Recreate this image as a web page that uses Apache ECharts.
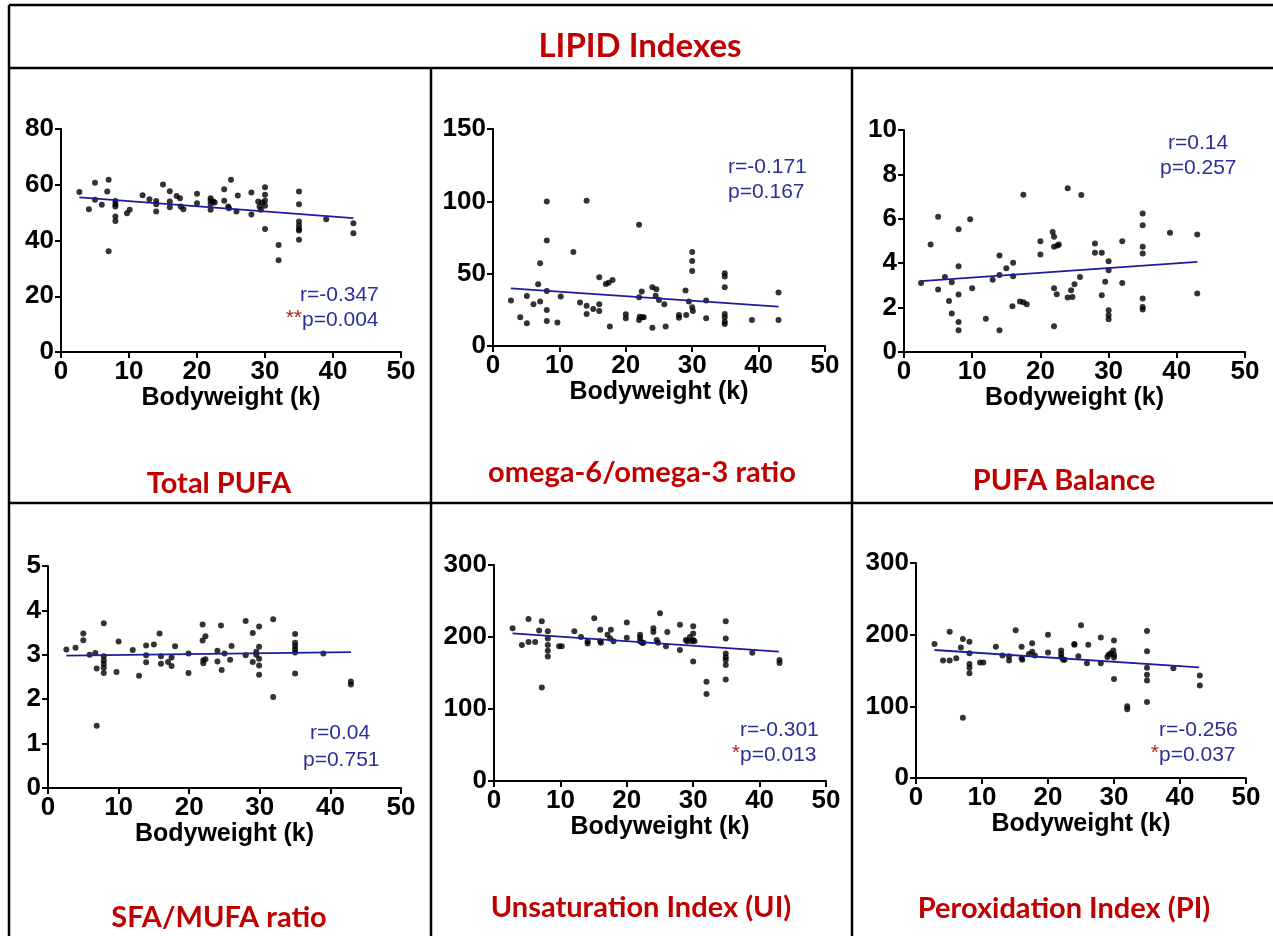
<!DOCTYPE html>
<html>
<head>
<meta charset="utf-8">
<title>LIPID Indexes</title>
<script src="https://cdn.jsdelivr.net/npm/echarts@6/dist/echarts.min.js"></script>
<style>
  html, body { margin: 0; padding: 0; background: #fff; }
  #chart { width: 1273px; height: 936px; }
</style>
</head>
<body>
<div id="chart"></div>
<script>
// ---- data: [bodyweight, value] ----
var totalPufa = [
  [2.7,57.4],[4.1,51.2],[5,60.7],[5,54.6],[6,52.8],[6.8,57.6],[7,61.8],[7,36.1],
  [8,54.2],[8,53],[8,52.2],[8,48.6],[8,47],[9.7,49.8],[10.1,51],[12,56.2],[13,54.8],
  [14,54.2],[14,53],[14,50.4],[15,60.1],[16,57.7],[16,54],[16,51.9],[17,56],[17.5,55.2],
  [17.6,52.2],[18,51.2],[20,56.8],[20,53.4],[22,55.2],[22,54.3],[22,53],[22,51],[22.4,54],
  [22.6,53.6],[24,58.4],[24,54.3],[24.6,52.2],[24.7,51.6],[25,61.8],[26,56.1],[25.8,50.4],
  [28,57.2],[28,49.3],[29,54],[29.2,52.2],[29.4,51],[29.6,53.6],[30,59.1],[30,56.4],
  [30,54.3],[30,52.5],[30,44.1],[32,38.4],[32,32.9],[35,57.6],[35,53],[35,46.8],[35,45.4],
  [35,44.1],[35,43.6],[35,40.3],[39,47.6],[43,46.2],[43,42.6]
];
var omegaRatio = [
  [2.7,31.4],[4.1,19.8],[5.1,34.6],[5.1,15.7],[6.1,28.8],[6.8,42.7],[7.1,57.2],[7.1,30.7],
  [8.1,99.9],[8.1,72.9],[8.1,38.1],[8.1,24.9],[8.1,17.3],[9.7,16.2],[10.2,34.2],[12.1,64.9],
  [13.1,30],[14.1,100.4],[14.1,27.9],[14.1,22.2],[15.1,25.6],[16,47.5],[16,28.8],[16,24.2],
  [17,42.9],[17.4,43.8],[17.6,13.4],[18,45.7],[20,21.9],[20,19.2],[22,83.8],[22,33.7],
  [22,18],[22.1,20.3],[22.4,37.6],[22.5,19.8],[22.7,19.8],[24,40.6],[24,12.7],[24.5,34.8],
  [24.6,39.2],[25,31.8],[25.8,28.8],[26,13.4],[28,21.5],[28,19.6],[29,38.3],[29.1,21.5],
  [29.5,30.7],[30,64.9],[30,58.8],[30,51.9],[30,26.8],[30.1,24.2],[32.1,31.4],[32.1,19.2],
  [34.9,50.3],[34.9,48],[34.9,40.6],[34.9,22.2],[34.9,19.8],[34.9,16.8],[34.9,15.2],
  [39,18],[43,36.9],[43,18]
];
var pufaBalance = [
  [2.5,3.11],[3.9,4.84],[5,6.09],[5,2.81],[6,3.38],[6.6,2.3],[7,3.14],[7,1.73],
  [8,5.53],[8,3.86],[8,2.59],[8,1.35],[8,0.98],[9.7,5.98],[10,2.87],[12,1.5],[13,3.26],
  [14,4.35],[14,3.47],[14,0.98],[15,3.77],[16,4.02],[16,3.41],[15.9,2.06],[17,2.28],
  [17.5,2.24],[18,2.15],[17.5,7.08],[20,4.99],[20,4.39],[21.8,5.41],[22,5.19],[22,4.74],
  [22.5,4.8],[22.7,4.84],[22,2.87],[22.4,2.6],[22,1.16],[24,7.38],[24,2.45],[24.5,2.78],
  [24.7,2.48],[25,3.05],[26,7.07],[25.8,3.38],[28,4.89],[28,4.47],[29,4.47],[29,2.56],
  [29.5,3.17],[30,4.09],[30,3.68],[30,1.88],[30,1.65],[30,1.47],[32,4.99],[32,3.11],
  [35,6.24],[35,5.71],[35,4.74],[35,4.44],[35,2.41],[35,2.03],[35,1.92],[39,5.37],
  [43,5.29],[43,2.63]
];
var sfaMufa = [
  [2.6,3.12],[3.9,3.16],[5,3.48],[5,3.33],[5.9,3.0],[6.7,3.04],[6.9,2.69],[6.9,1.4],
  [7.9,3.71],[7.9,2.97],[7.9,2.87],[7.9,2.79],[7.9,2.71],[7.9,2.59],[9.7,2.61],[10,3.3],
  [12,3.11],[12.9,2.53],[13.9,3.21],[13.9,2.99],[13.9,2.83],[15,3.23],[15.8,3.48],[16,2.97],
  [16,2.8],[17,2.84],[17.5,2.94],[17.5,2.75],[18,3.19],[19.9,3.03],[19.9,2.59],[21.9,3.68],
  [21.9,3.32],[22,2.88],[22,2.81],[22.3,3.42],[22.3,2.9],[24,3.09],[24,2.85],[24.5,3.66],
  [24.6,2.66],[25,3.03],[25.8,2.89],[26,3.2],[28,3.76],[28,2.99],[29,3.49],[29,2.84],
  [29.5,3.07],[29.5,3.0],[29.9,3.64],[29.9,3.18],[29.9,2.91],[29.9,2.76],[29.9,2.55],
  [31.9,3.8],[31.9,2.05],[35,3.47],[35,3.27],[35,3.2],[35,3.12],[35,3.05],[35,2.58],
  [39,3.03],[42.9,2.4],[42.9,2.33]
];
var unsatIndex = [
  [2.8,212],[4.2,189],[5.2,225],[5.2,193],[6.2,193],[6.8,209],[7.2,222],[7.2,130],
  [8.1,208],[8.1,198],[8.1,189],[8.1,181],[8.1,173],[9.8,187],[10.2,187],[12.1,208],
  [13.1,200],[14.1,194],[14.1,191],[15.1,226],[16,210],[16,194],[16.1,192],[17.1,203],
  [17.5,198],[17.6,210],[18,194],[20,220],[20,199],[22,203],[22,199],[22,194],[22.3,192],
  [22.5,192],[24,212],[24,207],[24.5,196],[24.7,192],[25,233],[25.9,187],[26.1,207],
  [28,217],[28,182],[28.9,196],[29.1,194],[29.5,200],[29.8,194],[30,215],[30,205],
  [30,196],[30.2,194],[30,166],[32,138],[32,121],[34.9,222],[34.9,198],[34.9,177],
  [34.9,172],[34.9,168],[34.9,161],[34.9,141],[38.9,178],[43,168],[43,164]
];
var peroxIndex = [
  [2.8,187],[4.1,164],[5.1,204],[5.1,164],[6.1,167],[6.8,182],[7.1,194],[7.1,84],
  [8.1,190],[8.1,174],[8.1,159],[8.1,154],[8.1,146],[9.7,161],[10.2,161],[12.1,183],
  [13.1,171],[14.1,170],[14.1,164],[15.1,206],[16,183],[16,167],[16.1,165],[17.1,173],
  [17.6,188],[17.6,176],[18,171],[20,200],[20,175],[22,178],[22,173],[22,169],[22.3,165],
  [22.5,165],[24,187],[24,186],[24.6,170],[25,213],[25.9,160],[26.1,186],[28,196],
  [28,160],[29,169],[29.2,172],[29.5,174],[29.9,178],[30,192],[30,172],[30,168],
  [30,138],[32,100],[32,96],[35,205],[35,177],[35,154],[35,144],[35,136],[35,106],
  [39,153],[43,143],[43,129]
];

// regression lines as drawn in the figure (start and end)
var totalPufaFit   = [[2.7,55.5],[43,48.0]];
var omegaRatioFit  = [[2.7,39.9],[43,27.2]];
var pufaBalanceFit = [[2.5,3.19],[43,4.06]];
var sfaMufaFit     = [[2.6,2.98],[42.9,3.06]];
var unsatIndexFit  = [[2.8,205],[42.9,179.6]];
var peroxIndexFit  = [[2.8,178.6],[42.9,154.4]];

var panelNames = ['Total PUFA', 'omega-6/omega-3 ratio', 'PUFA Balance',
                  'SFA/MUFA ratio', 'Unsaturation Index (UI)', 'Peroxidation Index (PI)'];
var rTexts = ['r=-0.347', 'r=-0.171', 'r=0.14', 'r=0.04', 'r=-0.301', 'r=-0.256'];
var pTexts = ['p=0.004', 'p=0.167', 'p=0.257', 'p=0.751', 'p=0.013', 'p=0.037'];
var pStars = ['**', '', '', '', '*', '*'];
var yMax = [80, 150, 10, 5, 300, 300];
var yStep = [20, 50, 2, 1, 100, 100];
var xTitle = 'Bodyweight (k)';

var points = [totalPufa, omegaRatio, pufaBalance, sfaMufa, unsatIndex, peroxIndex];
var fits = [totalPufaFit, omegaRatioFit, pufaBalanceFit, sfaMufaFit, unsatIndexFit, peroxIndexFit];

// ---- layout ----
var grids = [
  {left: 61,  top: 129, width: 340, height: 223},
  {left: 493, top: 129, width: 332, height: 217},
  {left: 904, top: 130, width: 341, height: 222},
  {left: 48,  top: 566, width: 353, height: 222},
  {left: 494, top: 565, width: 332, height: 216},
  {left: 916, top: 563, width: 330, height: 215}
];
// [r x, r y, p x, p y] (left x, middle y)
var statPos = [
  [300, 295, 302, 320],
  [728, 167, 728, 192],
  [1168, 143, 1160, 168],
  [310, 733, 303, 760],
  [740, 730, 740, 755],
  [1159, 730, 1159, 755]
];
var labelPos = [[219, 484], [642, 473], [1064, 481], [219, 918], [641, 908], [1064, 909]];

var AX = '"Liberation Sans", Arial, sans-serif';
var LABEL_FONT = 'Lato, "Open Sans", sans-serif';
var RED = '#C00000';
var BLUE_TEXT = '#2B2F96';
var BLUE_LINE = '#1C1C9E';

var chart = echarts.init(document.getElementById('chart'));

var xAxes = [], yAxes = [], series = [], graphic = [];

grids.forEach(function(g, i) {
  xAxes.push({
    gridIndex: i, type: 'value', min: 0, max: 50, interval: 10,
    name: xTitle, nameLocation: 'middle', nameGap: 32,
    nameTextStyle: {color: '#000', fontFamily: AX, fontWeight: 'bold', fontSize: 25},
    axisLine: {show: true, onZero: false, lineStyle: {color: '#000', width: 2}},
    axisTick: {show: true, length: 6, lineStyle: {color: '#000', width: 2}},
    axisLabel: {color: '#000', fontFamily: AX, fontWeight: 'bold', fontSize: 26, margin: 7},
    splitLine: {show: false}
  });
  yAxes.push({
    gridIndex: i, type: 'value', min: 0, max: yMax[i], interval: yStep[i],
    axisLine: {show: true, onZero: false, lineStyle: {color: '#000', width: 2}},
    axisTick: {show: true, length: 6, lineStyle: {color: '#000', width: 2}},
    axisLabel: {color: '#000', fontFamily: AX, fontWeight: 'bold', fontSize: 26, margin: 7},
    splitLine: {show: false}
  });
  series.push({
    type: 'scatter', xAxisIndex: i, yAxisIndex: i, data: points[i],
    symbol: 'circle', symbolSize: 6, itemStyle: {color: '#000'}, silent: true
  });
  series.push({
    type: 'line', xAxisIndex: i, yAxisIndex: i, data: fits[i],
    showSymbol: false, lineStyle: {color: BLUE_LINE, width: 1.8}, silent: true
  });

  var s = statPos[i];
  graphic.push({type: 'text', x: s[0], y: s[1],
    style: {text: rTexts[i], fill: BLUE_TEXT, font: '21px ' + AX, align: 'left', verticalAlign: 'middle'}});
  graphic.push({type: 'text', x: s[2], y: s[3],
    style: {text: pTexts[i], fill: BLUE_TEXT, font: '21px ' + AX, align: 'left', verticalAlign: 'middle'}});
  if (pStars[i]) {
    graphic.push({type: 'text', x: s[2], y: s[3] - 2,
      style: {text: pStars[i], fill: '#B0201E', font: '21px ' + AX, align: 'right', verticalAlign: 'middle'}});
  }
  graphic.push({type: 'text', x: labelPos[i][0], y: labelPos[i][1],
    style: {text: panelNames[i], fill: RED, font: 'bold 29px ' + LABEL_FONT, align: 'center', verticalAlign: 'middle'}});
});

// table title and borders
graphic.push({type: 'text', x: 640, y: 46,
  style: {text: 'LIPID Indexes', fill: RED, font: 'bold 33px ' + LABEL_FONT, align: 'center', verticalAlign: 'middle'}});
[
  [9, 5, 1273, 5], [9, 68, 1273, 68], [9, 503, 1273, 503],
  [9, 5, 9, 936], [431, 68, 431, 936], [852, 68, 852, 936]
].forEach(function(l) {
  graphic.push({type: 'line', shape: {x1: l[0], y1: l[1], x2: l[2], y2: l[3]},
    style: {stroke: '#000', lineWidth: 2.5}, silent: true});
});

chart.setOption({
  animation: false,
  backgroundColor: '#fff',
  grid: grids,
  xAxis: xAxes,
  yAxis: yAxes,
  series: series,
  graphic: graphic
});
</script>
</body>
</html>
